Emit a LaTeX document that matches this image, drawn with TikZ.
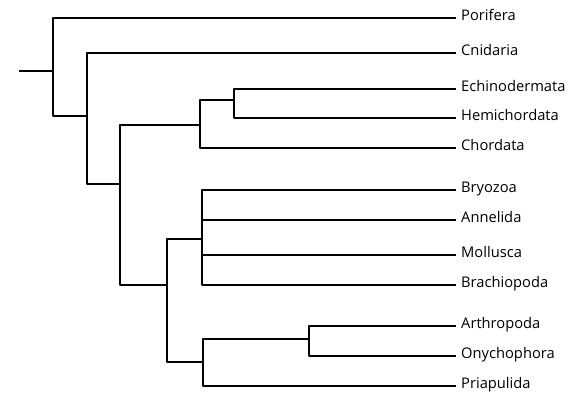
\documentclass[tikz,border=0pt]{standalone}
\usepackage{fontspec}
\setmainfont{Open Sans}
\begin{document}
\begin{tikzpicture}[x=1pt,y=-1pt,
  branch/.style={line width=1.9pt,line cap=rect,line join=round},
  taxon/.style={anchor=west,inner xsep=6pt,inner ysep=0pt,text height=0.75em,text depth=0.25em,font=\fontsize{14.7}{17}\selectfont}]
\useasboundingbox (0,0) rectangle (583,400);
% leaves
\node[taxon] (por) at (455,18) {Porifera};
\node[taxon] (cni) at (455,53) {Cnidaria};
\node[taxon] (ech) at (455,89) {Echinodermata};
\node[taxon] (hem) at (455,118) {Hemichordata};
\node[taxon] (cho) at (455,148) {Chordata};
\node[taxon] (bry) at (455,190) {Bryozoa};
\node[taxon] (ann) at (455,220) {Annelida};
\node[taxon] (mol) at (455,255) {Mollusca};
\node[taxon] (bra) at (455,285) {Brachiopoda};
\node[taxon] (art) at (455,326) {Arthropoda};
\node[taxon] (ony) at (455,356) {Onychophora};
\node[taxon] (pri) at (455,386) {Priapulida};
% internal nodes
\coordinate (root) at (20,71);
\coordinate (a) at (53,71);
\coordinate (b) at (87,116);
\coordinate (c) at (120,184);
\coordinate (d) at (200,125);
\coordinate (e) at (234,100);
\coordinate (f) at (167,285);
\coordinate (g) at (202,239);
\coordinate (h) at (203,362);
\coordinate (i) at (309,339);
% branches
\draw[branch] (root) -- (a);
\draw[branch] (a) |- (por.west);
\draw[branch] (a) |- (b);
\draw[branch] (b) |- (cni.west);
\draw[branch] (b) |- (c);
\draw[branch] (c) |- (d);
\draw[branch] (c) |- (f);
\draw[branch] (d) |- (e);
\draw[branch] (d) |- (cho.west);
\draw[branch] (e) |- (ech.west);
\draw[branch] (e) |- (hem.west);
\draw[branch] (f) |- (g);
\draw[branch] (f) |- (h);
\draw[branch] (g) |- (bry.west);
\draw[branch] (g) |- (ann.west);
\draw[branch] (g) |- (mol.west);
\draw[branch] (g) |- (bra.west);
\draw[branch] (h) |- (i);
\draw[branch] (h) |- (pri.west);
\draw[branch] (i) |- (art.west);
\draw[branch] (i) |- (ony.west);
\end{tikzpicture}
\end{document}
